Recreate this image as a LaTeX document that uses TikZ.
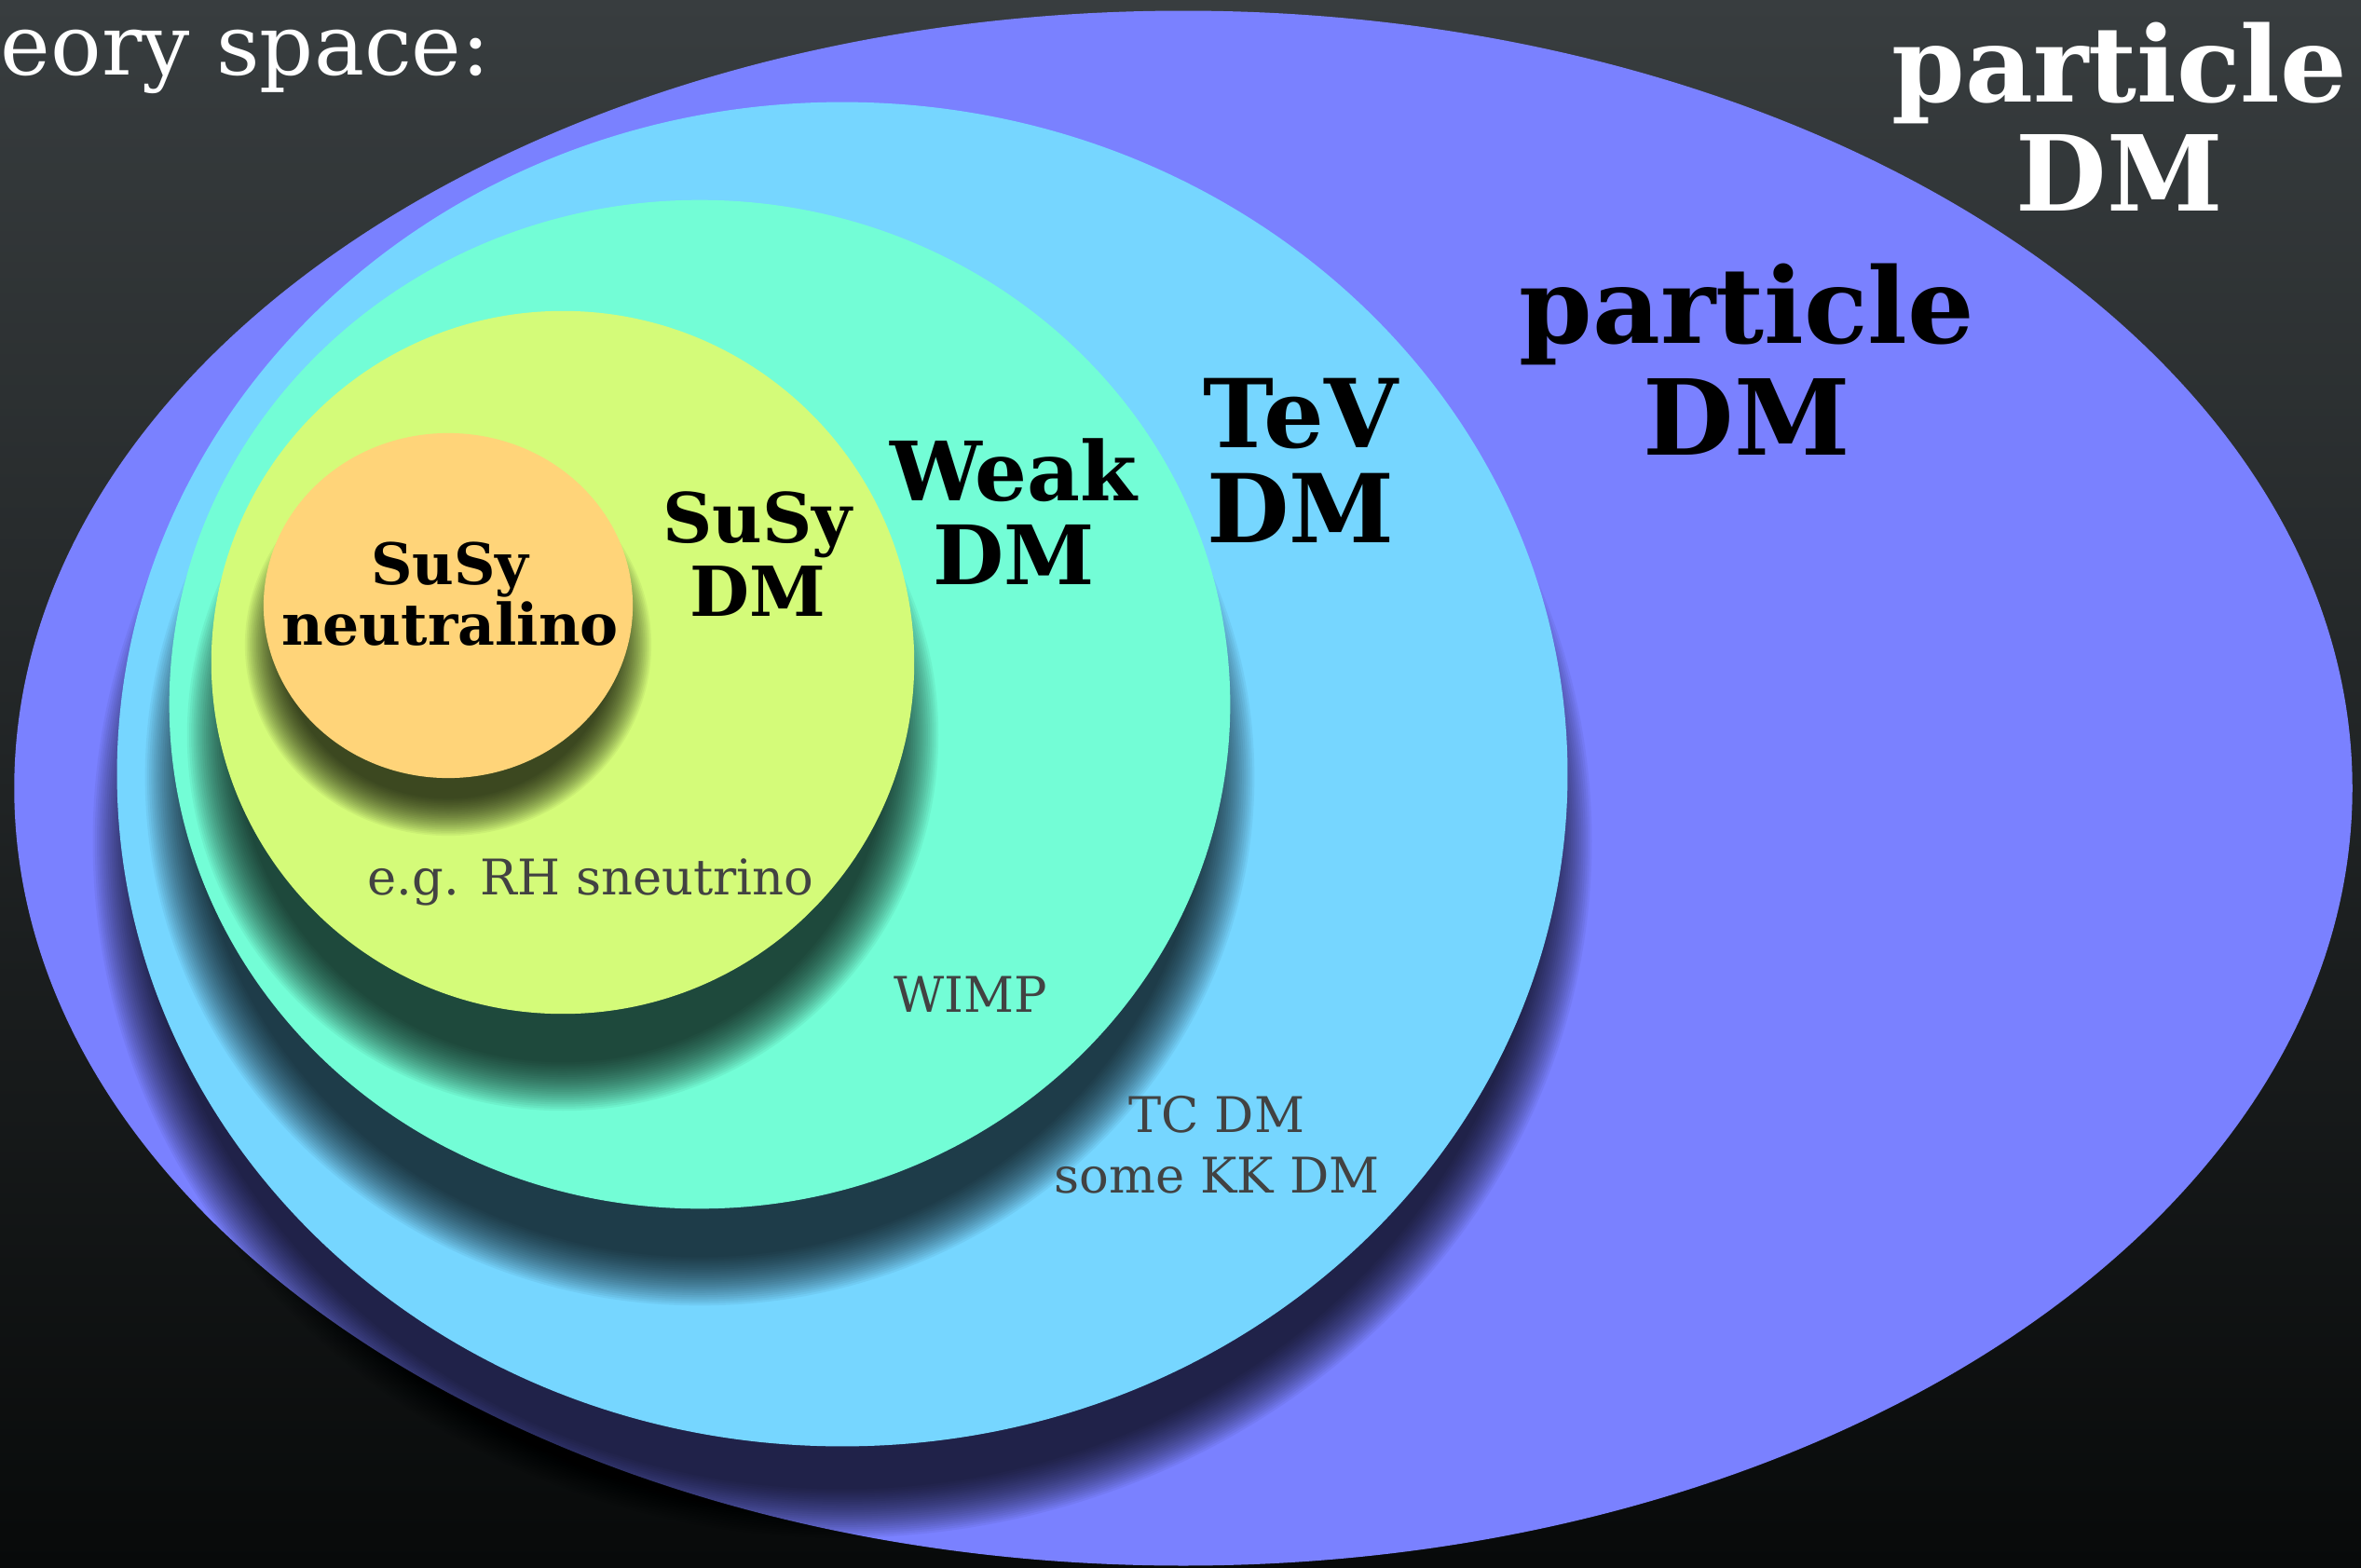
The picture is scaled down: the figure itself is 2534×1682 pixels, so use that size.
\documentclass[tikz,border=0pt]{standalone}
\usepackage{fontspec}
\setmainfont{DejaVu Serif}
\definecolor{cPurple}{HTML}{7A81FF}
\definecolor{cSky}{HTML}{76D6FF}
\definecolor{cTeal}{HTML}{73FDD6}
\definecolor{cLime}{HTML}{D4FB79}
\definecolor{cOrange}{HTML}{FFD479}
\definecolor{cGray}{HTML}{424242}
\definecolor{bgTop}{RGB}{56,61,63}
\definecolor{bgBot}{RGB}{8,10,10}
% soft drop shadow: cx, cy, rx, ry, offset, blur half-width (all in px)
\newcommand{\blurshadow}[6]{%
  \foreach \k in {0,...,23}{%
    \pgfmathsetmacro{\rx}{(#3+#6-\k*#6/11.5)*0.284528}%
    \pgfmathsetmacro{\ry}{(#4+#6-\k*#6/11.5)*0.284528}%
    \fill[black,fill opacity=0.047] ({#1},{#2+#5}) ellipse [x radius=\rx pt, y radius=\ry pt];
  }%
}
\tikzset{
  lbl/.style={anchor=base, inner sep=0pt, font=\bfseries\fontsize{#1}{#1}\selectfont},
  sml/.style={anchor=base, inner sep=0pt, text=cGray, font=\fontsize{15}{15}\selectfont},
}
\begin{document}
\begin{tikzpicture}[x=0.01cm,y=-0.01cm]
\useasboundingbox (0,0) rectangle (2534,1682);
\shade[top color=bgTop, bottom color=bgBot] (0,0) rectangle (2534,1682);
% outer: particle DM
\fill[cPurple] (1270,846) ellipse [x radius=12.54cm, y radius=8.34cm];
% TeV
\blurshadow{904}{831}{778}{721}{72}{26}
\fill[cSky] (904,831) ellipse [x radius=7.78cm, y radius=7.21cm];
% Weak
\blurshadow{751}{756}{569}{541}{78}{26}
\fill[cTeal] (751,756) ellipse [x radius=5.69cm, y radius=5.41cm];
% SuSy
\blurshadow{604}{711}{377}{377}{78}{26}
\fill[cLime] (604,711) ellipse [x radius=3.77cm, y radius=3.77cm];
% neutralino
\blurshadow{481}{650}{198}{185}{42}{20}
\fill[cOrange] (481,650) ellipse [x radius=1.98cm, y radius=1.85cm];
% labels
\node[anchor=base west, inner sep=0pt, text=white, font=\fontsize{25.8}{26}\selectfont] (ts) at (0,81) {eory space:};
\node[lbl=32, text=white] (wp1) at (2275,110) {particle};
\node[lbl=32, text=white] (wp2) at (2275,226) {DM};
\node[lbl=32] (bp1) at (1875,368) {particle};
\node[lbl=32] (bp2) at (1875,488) {DM};
\node[lbl=29] (tv1) at (1396,480) {TeV};
\node[lbl=29] (tv2) at (1396,582) {DM};
\node[lbl=25] (wk1) at (1088,537) {Weak};
\node[lbl=25] (wk2) at (1088,627) {DM};
\node[lbl=21] (sd1) at (813,582) {SuSy};
\node[lbl=21] (sd2) at (813,661) {DM};
\node[lbl=17.5] (sn1) at (483,627) {SuSy};
\node[lbl=17.5] (sn2) at (483,692) {neutralino};
\node[sml] (eg) at (634,960) {e.g. RH sneutrino};
\node[sml] (wimp) at (1042,1086) {WIMP};
\node[sml] (tc1) at (1306,1215) {TC DM};
\node[sml] (tc2) at (1306,1280) {some KK DM};
\end{tikzpicture}
\end{document}
